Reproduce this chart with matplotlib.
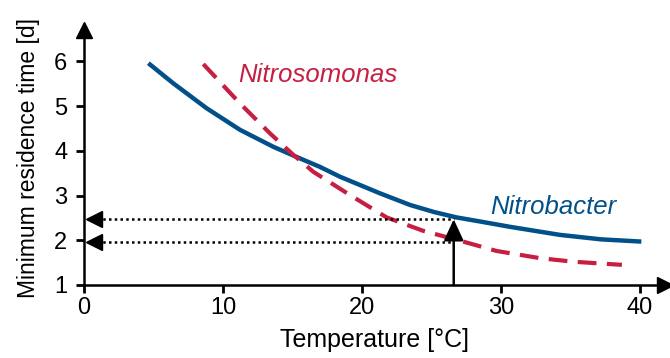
import matplotlib.pyplot as plt
import numpy as np

plt.rcParams['font.family'] = ['Liberation Sans', 'DejaVu Sans']

# curves
nitrobacter_t = [4.63, 6.42, 8.83, 11.22, 13.62, 15.54, 16.98, 18.42, 21.29, 23.45,
                 25.2, 26.81, 28.49, 30.65, 34.24, 37.2, 40.1]
nitrobacter_d = [5.96, 5.51, 4.95, 4.47, 4.09, 3.83, 3.64, 3.42, 3.05, 2.79,
                 2.63, 2.51, 2.42, 2.30, 2.12, 2.02, 1.97]
nitrosomonas_t = [8.58, 11.22, 13.38, 15.06, 16.5, 19.14, 21.78, 24.41, 27.05, 29.69,
                  32.8, 35.2, 38.7]
nitrosomonas_d = [5.94, 5.06, 4.39, 3.91, 3.53, 3.01, 2.51, 2.21, 1.99, 1.76,
                  1.60, 1.52, 1.45]

t_mark = 26.6
d_marks = [2.47, 1.97]

blue = '#02508a'
red = '#c61f42'

fig = plt.figure(figsize=(6.7, 3.58), dpi=100)
ax = fig.add_axes([0.1254, 0.204, 0.8671, 0.712])

ax.plot(nitrobacter_t, nitrobacter_d, color=blue, lw=3.2, solid_capstyle='butt')
ax.plot(nitrosomonas_t, nitrosomonas_d, color=red, lw=3, dashes=(4.5, 2.5))

ax.text(11.1, 5.7, 'Nitrosomonas', color=red, style='italic', fontsize=18.5, va='center')
ax.text(29.2, 2.74, 'Nitrobacter', color=blue, style='italic', fontsize=18.5, va='center')

for d in d_marks:
    ax.plot([0.9, t_mark], [d, d], color='black', lw=1.8, ls=(0, (1, 1.3)))
    ax.plot(0.75, d, marker='<', color='black', ms=11, clip_on=False)

ax.annotate('', xy=(t_mark, d_marks[0]), xytext=(t_mark, 1.0),
            arrowprops=dict(arrowstyle='-|>,head_length=0.65,head_width=0.3', color='black', lw=1.8,
                            mutation_scale=20, shrinkA=0, shrinkB=0))

ax.set_xlim(0, 41.8)
ax.set_ylim(1, 6.7)
ax.set_xticks([0, 10, 20, 30, 40])
ax.set_yticks([1, 2, 3, 4, 5, 6])
for s in ['top', 'right']:
    ax.spines[s].set_visible(False)
for s in ['left', 'bottom']:
    ax.spines[s].set_linewidth(1.8)
ax.tick_params(direction='out', length=6, width=2, labelsize=17)
ax.tick_params(axis='y', pad=6)
ax.tick_params(axis='x', pad=3)

# axis arrowheads
ax.plot(1, 0, '>k', ms=11, transform=ax.transAxes, clip_on=False)
ax.plot(0, 1, '^k', ms=11, transform=ax.transAxes, clip_on=False)

ax.set_xlabel('Temperature [°C]', fontsize=18, labelpad=6)
ax.set_ylabel('Minimum residence time [d]', fontsize=16.5, labelpad=10)

fig.savefig('out.png', dpi=100)
